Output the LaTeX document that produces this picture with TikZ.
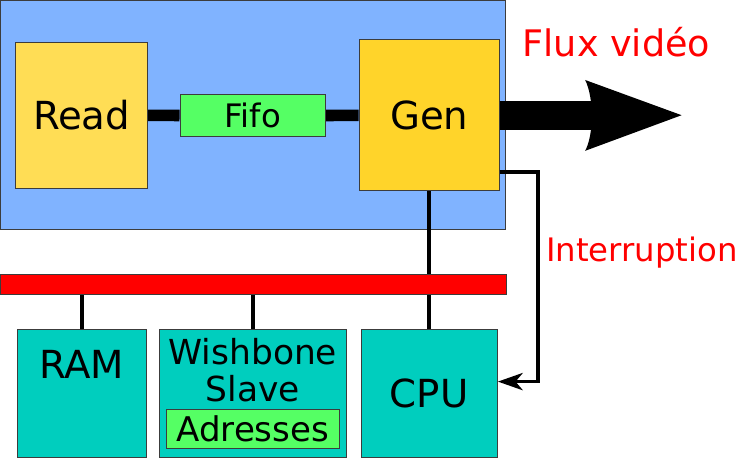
\documentclass[tikz,border=0pt]{standalone}
\usepackage{fontspec}
\setmainfont{DejaVu Sans}
\usetikzlibrary{arrows.meta,calc}
\definecolor{skyblue}{RGB}{128,179,255}
\definecolor{sand}{RGB}{255,221,85}
\definecolor{gold}{RGB}{255,212,42}
\definecolor{fifogreen}{RGB}{85,255,100}
\definecolor{tealbox}{RGB}{0,206,190}
\definecolor{edge}{RGB}{60,60,60}

\begin{document}
\begin{tikzpicture}[
    block/.style={draw=edge,line width=0.7pt,inner sep=0pt},
    stem/.style={line width=2.6pt},
    bigfont/.style={font=\fontsize{27.5}{30}\selectfont}]
        \useasboundingbox (0,0) rectangle (18.55,11.45);
        % video part
        \draw[edge,line width=0.7pt,fill=skyblue] (0,5.71) rectangle (12.64,11.45);
        \node[block,fill=sand,minimum width=3.30cm,minimum height=3.65cm,bigfont] (read) at (2.04,8.57) {Read};
        \node[block,fill=fifogreen,minimum width=3.64cm,minimum height=1.04cm,font=\fontsize{23}{26}\selectfont] (fifo) at (6.32,8.56) {Fifo};
        \node[block,fill=gold,minimum width=3.50cm,minimum height=3.78cm,bigfont] (gen) at (10.73,8.57) {Gen};
        \draw[line width=8.3pt] (read) -- (fifo) -- (gen);
        % flux video
        \coordinate (fluxneck) at (14.85,8.57);
        \draw[line width=20.6pt] (gen) -- (fluxneck);
        \fill (14.63,9.45) -- (17.04,8.57) -- (14.63,7.68) .. controls (14.85,8.1) and (14.85,9.0) .. (14.63,9.45) -- cycle;
        \node[red,anchor=base,font=\fontsize{26}{30}\selectfont] (fluxlabel) at (15.41,10.03) {Flux vidéo};
        % bus side
        \node[block,fill=tealbox,minimum width=3.24cm,minimum height=3.21cm] (ram) at (2.05,1.62) {};
        \node[anchor=base,bigfont] (ramlabel) at (2.04,1.99) {RAM};
        \node[block,fill=tealbox,minimum width=4.69cm,minimum height=3.21cm] (wb) at (6.32,1.62) {};
        \node[anchor=base,font=\fontsize{24.5}{28}\selectfont] (wbname) at (6.32,2.33) {Wishbone};
        \node[anchor=base,font=\fontsize{24.5}{28}\selectfont] (wbslave) at (6.32,1.41) {Slave};
        \node[block,fill=fifogreen,minimum width=4.32cm,minimum height=0.98cm,font=\fontsize{24.2}{28}\selectfont] (addr) at (6.32,0.73) {Adresses};
        \node[block,fill=tealbox,minimum width=3.41cm,minimum height=3.21cm,bigfont] (cpu) at (10.73,1.62) {CPU};
        \draw[stem] (gen) -- (cpu);
        \node[block,fill=red,minimum width=12.66cm,minimum height=0.49cm] (bus) at (6.33,4.335) {};
        \draw[stem] (ram.north) -- (ram.north |- bus.south);
        \draw[stem] (wb.north) -- (wb.north |- bus.south);
        % interruption
        \draw[stem,-{Stealth[length=0.62cm,width=0.43cm,inset=0.18cm]}] ([yshift=0.49cm]gen.south east) -- ++(0.95,0) |- ([yshift=0.29cm]cpu.east);
        \node[red,anchor=base west,inner sep=0pt,font=\fontsize{23}{27}\selectfont] (irqlabel) at (13.65,4.91) {Interruption};
      \end{tikzpicture}
\end{document}
